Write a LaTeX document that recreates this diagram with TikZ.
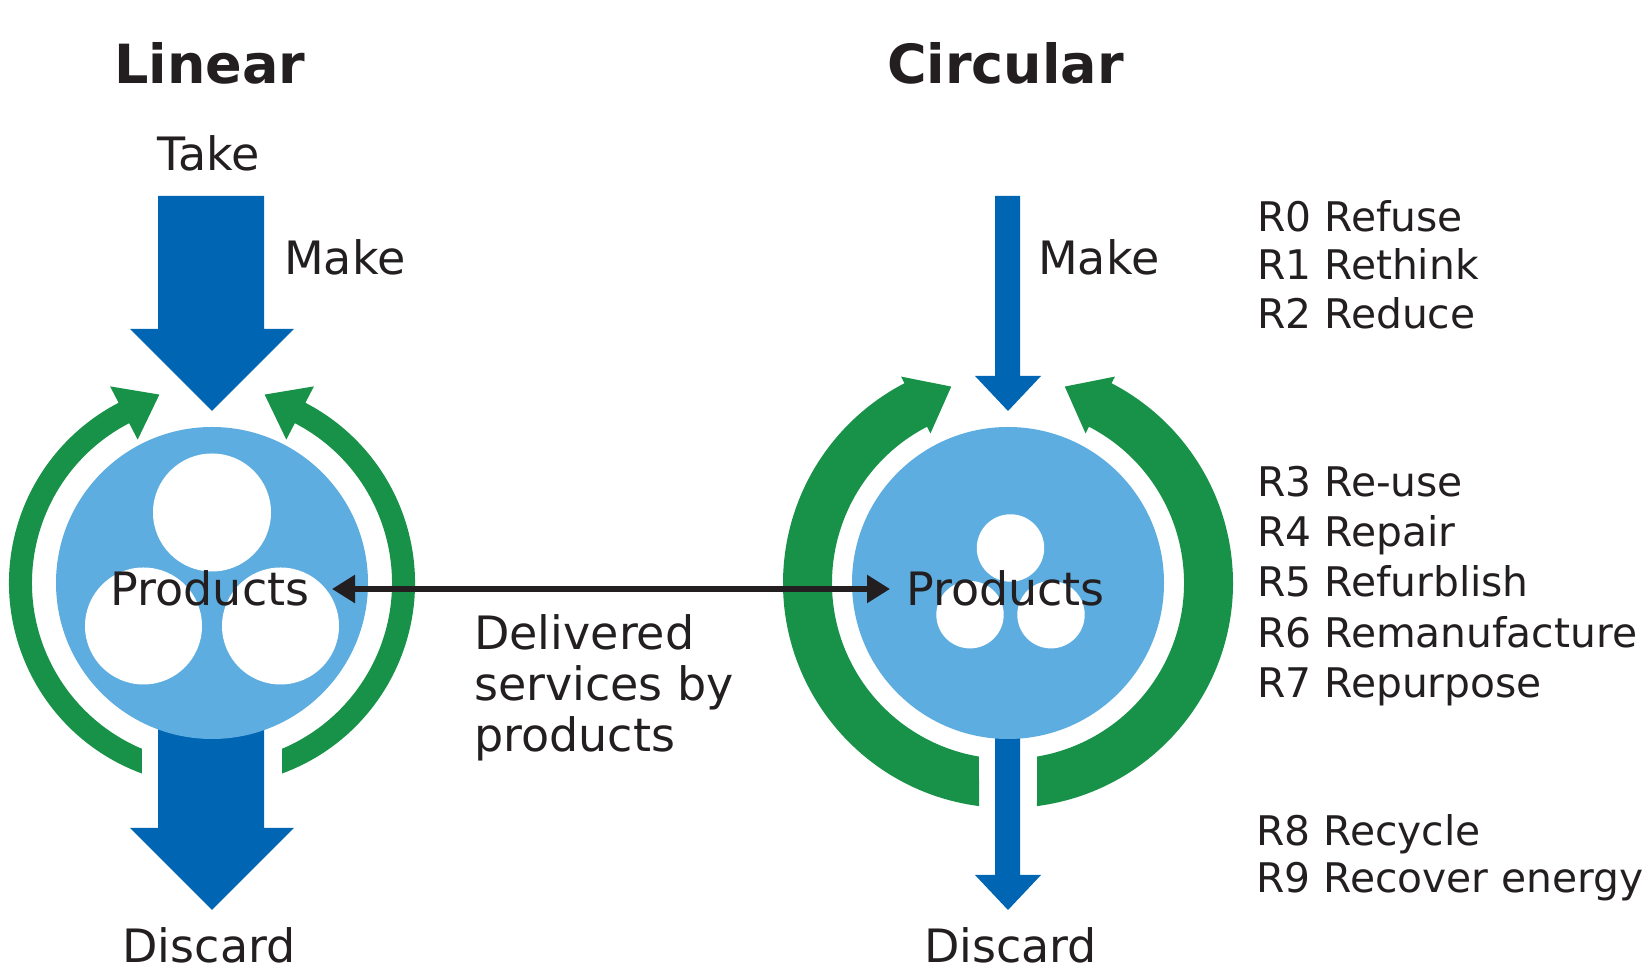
\documentclass[tikz,border=0pt]{standalone}
\usepackage{fontspec}
\setmainfont{DejaVu Sans}
\usetikzlibrary{calc,arrows.meta}
\definecolor{cblue}{RGB}{0,101,179}
\definecolor{lblue}{RGB}{93,173,224}
\definecolor{cgreen}{RGB}{24,146,72}
\definecolor{textc}{RGB}{35,31,32}
\begin{document}
\begin{tikzpicture}[x=1pt,y=1pt,
  lbl/.style={text=textc, inner sep=0pt, anchor=base, font=\fontsize{46}{55}\selectfont},
  lblw/.style={lbl, anchor=base west},
  rlbl/.style={text=textc, inner sep=0pt, anchor=base west, font=\fontsize{40.8}{48}\selectfont},
  ttl/.style={text=textc, inner sep=0pt, anchor=base, font=\fontsize{54}{64}\selectfont\bfseries},
  ring/.style={fill=cgreen},
  flow/.style={fill=cblue},
  disc/.style={fill=lblue},
  hole/.style={fill=white},
  link/.style={draw=textc, line width=5.5pt, {Triangle[length=23pt,width=27pt]}-{Triangle[length=23pt,width=27pt]}}
  ]
\useasboundingbox (0,0) rectangle (1648,973);

% centres
\coordinate (L) at (212,390);
\coordinate (R) at (1008,390);

% ---- green loops, linear ----
\fill[ring] ($(L)+(249.8:203)$) arc[start angle=249.8, end angle=117.4, radius=203]
  -- ($(L)+(117.4:221.5)$) -- ($(L)+(117.4:191.5)+(27.4:40)$) -- ($(L)+(117.4:161.5)$)
  -- ($(L)+(117.4:180)$) arc[start angle=117.4, end angle=247.1, radius=180] -- cycle;
\fill[ring] ($(L)+(290.2:203)$) arc[start angle=290.2, end angle=422.6, radius=203]
  -- ($(L)+(62.6:221.5)$) -- ($(L)+(62.6:191.5)+(152.6:40)$) -- ($(L)+(62.6:161.5)$)
  -- ($(L)+(62.6:180)$) arc[start angle=62.6, end angle=-67.1, radius=180] -- cycle;

% ---- green loops, circular ----
\fill[ring] ($(R)+(262.6:225)$) arc[start angle=262.6, end angle=117.4, radius=225]
  -- ($(R)+(117.4:232.5)$) -- ($(R)+(117.4:200.5)+(27.4:40)$) -- ($(R)+(117.4:168.5)$)
  -- ($(R)+(117.4:176)$) arc[start angle=117.4, end angle=260.5, radius=176] -- cycle;
\fill[ring] ($(R)+(277.4:225)$) arc[start angle=277.4, end angle=422.6, radius=225]
  -- ($(R)+(62.6:232.5)$) -- ($(R)+(62.6:200.5)+(152.6:40)$) -- ($(R)+(62.6:168.5)$)
  -- ($(R)+(62.6:176)$) arc[start angle=62.6, end angle=-80.5, radius=176] -- cycle;

% ---- blue flows ----
% Take / Make (linear)
\fill[flow] (158,777) -- (264,777) -- (264,644) -- (294,644) -- (212,562) -- (130,644) -- (158,644) -- cycle;
% Discard (linear)
\fill[flow] (158,270) -- (264,270) -- (264,145) -- (294,145) -- (212,63) -- (130,145) -- (158,145) -- cycle;
% Make (circular)
\fill[flow] (995,777) -- (1020,777) -- (1020,597) -- (1041,597) -- (1008,562) -- (975,597) -- (995,597) -- cycle;
% Discard (circular)
\fill[flow] (995,270) -- (1020,270) -- (1020,98) -- (1041,98) -- (1008,63) -- (975,98) -- (995,98) -- cycle;

% ---- product discs ----
\fill[disc] (L) circle[radius=156];
\fill[disc] (R) circle[radius=156];
\fill[hole] (212,460.5) circle[radius=59];
\fill[hole] (143.5,347) circle[radius=58.5];
\fill[hole] (280.5,347) circle[radius=58.5];
\fill[hole] (1010.5,425) circle[radius=33.7];
\fill[hole] (970,358.3) circle[radius=33.7];
\fill[hole] (1051,358.3) circle[radius=33.7];

% ---- texts ----
\node[ttl] (tlin) at (210,889) {Linear};
\node[ttl] (tcirc) at (1005.5,889) {Circular};
\node[lbl] (take) at (208.5,802) {Take};
\node[lblw] (makeL) at (284,698) {Make};
\node[lblw] (makeR) at (1038,698) {Make};
\node[lbl] (prodL) at (210,367) {Products};
\node[lbl] (prodR) at (1005.5,367) {Products};
\node[lbl] (discL) at (209,10.5) {Discard};
\node[lbl] (discR) at (1010.5,10.5) {Discard};
\node[lblw] (del1) at (474,323) {Delivered};
\node[lblw] (del2) at (474,272.5) {services by};
\node[lblw] (del3) at (474,221) {products};

\node[rlbl] (r0) at (1257,741.5) {R0 Refuse};
\node[rlbl] (r1) at (1257,693) {R1 Rethink};
\node[rlbl] (r2) at (1257,644.7) {R2 Reduce};
\node[rlbl] (r3) at (1257,476.5) {R3 Re-use};
\node[rlbl] (r4) at (1257,426.3) {R4 Repair};
\node[rlbl] (r5) at (1257,376.3) {R5 Refurblish};
\node[rlbl] (r6) at (1257,325.5) {R6 Remanufacture};
\node[rlbl] (r7) at (1257,275) {R7 Repurpose};
\node[rlbl] (r8) at (1256,127) {R8 Recycle};
\node[rlbl] (r9) at (1256,80) {R9 Recover energy};

% ---- services link ----
\coordinate (aL) at (332,384);
\coordinate (aR) at (890,384);
\draw[link] (aL) -- (aR);
\end{tikzpicture}
\end{document}
